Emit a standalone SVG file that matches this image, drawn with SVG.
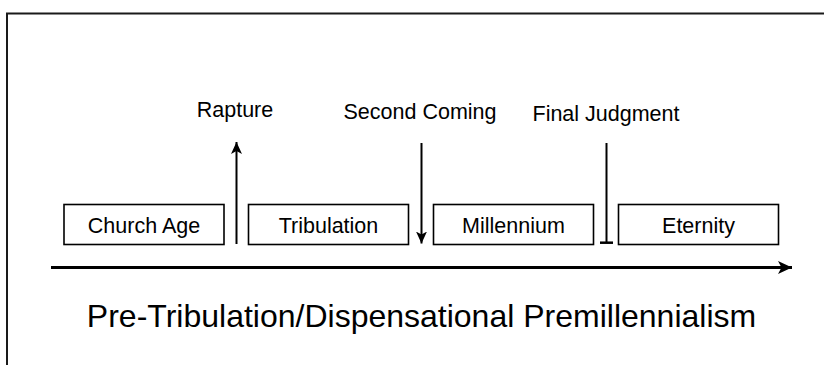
<svg xmlns="http://www.w3.org/2000/svg" width="824" height="365" viewBox="0 0 824 365">
  <style>
    .box { fill: #ffffff; stroke: #000000; stroke-width: 1.6; }
    .lbl { font-family: "Liberation Sans", Arial, sans-serif; font-size: 21.5px; fill: #000000; text-anchor: middle; }
    .ev { font-family: "Liberation Sans", Arial, sans-serif; font-size: 21.5px; fill: #000000; text-anchor: middle; }
    .title { font-family: "Liberation Sans", Arial, sans-serif; font-size: 32px; fill: #000000; text-anchor: middle; }
    .conn { stroke: #000000; stroke-width: 2; fill: none; }
    .bar { stroke: #000000; stroke-width: 2.5; fill: none; }
    .axis { stroke: #000000; stroke-width: 3.2; fill: none; }
  </style>
  <defs>
    <marker id="ah" viewBox="0 0 12 11" refX="12" refY="5.5" markerWidth="12" markerHeight="11" markerUnits="userSpaceOnUse" orient="auto">
      <path d="M0,0 L12,5.5 L0,11 L3,5.5 Z" fill="#000000"/>
    </marker>
    <marker id="ahBig" viewBox="0 0 14 13" refX="14" refY="6.5" markerWidth="14" markerHeight="13" markerUnits="userSpaceOnUse" orient="auto">
      <path d="M0,0 L14,6.5 L0,13 L3.5,6.5 Z" fill="#000000"/>
    </marker>
  </defs>
  <rect width="824" height="365" fill="#ffffff"/>
  <rect id="frame" x="7" y="13.5" width="900" height="400" fill="none" stroke="#1a1a1a" stroke-width="2"/>

  <g id="church-age">
    <rect class="box" x="64" y="204.5" width="160" height="40"/>
    <text class="lbl" x="144" y="233">Church Age</text>
  </g>
  <g id="tribulation">
    <rect class="box" x="248.5" y="204.5" width="160" height="40"/>
    <text class="lbl" x="328.5" y="233">Tribulation</text>
  </g>
  <g id="millennium">
    <rect class="box" x="433.5" y="204.5" width="160" height="40"/>
    <text class="lbl" x="513.5" y="233">Millennium</text>
  </g>
  <g id="eternity">
    <rect class="box" x="618.5" y="204.5" width="160" height="40"/>
    <text class="lbl" x="698.5" y="233">Eternity</text>
  </g>

  <g id="rapture">
    <text class="ev" x="235" y="117">Rapture</text>
  </g>
  <g id="second-coming">
    <text class="ev" x="420" y="119">Second Coming</text>
  </g>
  <g id="final-judgment">
    <text class="ev" x="606" y="120.5">Final Judgment</text>
  </g>

  <g id="connectors">
    <line class="conn" x1="236.5" y1="244" x2="236.5" y2="142" marker-end="url(#ah)"/>
    <line class="conn" x1="421.5" y1="143" x2="421.5" y2="243.5" marker-end="url(#ah)"/>
    <line class="conn" x1="606.5" y1="143" x2="606.5" y2="243"/>
    <line class="bar" x1="600" y1="242.7" x2="613" y2="242.7"/>
    <line class="axis" x1="51" y1="267.5" x2="792" y2="267.5" marker-end="url(#ahBig)"/>
  </g>

  <g id="title">
    <text class="title" x="421.5" y="326.5">Pre-Tribulation/Dispensational Premillennialism</text>
  </g>
</svg>
